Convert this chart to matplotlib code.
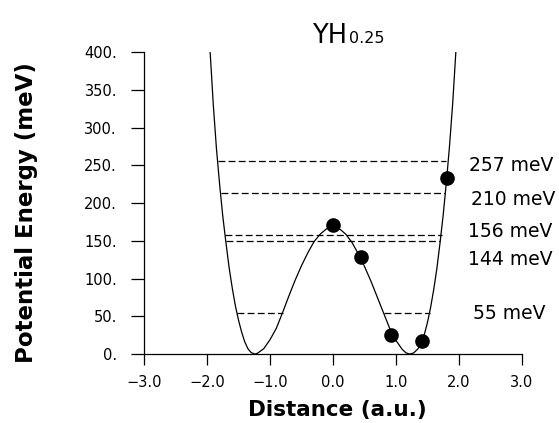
import matplotlib
matplotlib.use("Agg")
import matplotlib.pyplot as plt

# potential curve (Distance in a.u., energy in meV)
curve_x = [-1.95, -1.90, -1.85, -1.80, -1.75, -1.70, -1.65, -1.60, -1.55, -1.50,
           -1.45, -1.40, -1.35, -1.30, -1.24, -1.20, -1.10, -1.00, -0.90, -0.80,
           -0.70, -0.60, -0.50, -0.40, -0.30, -0.20, -0.10, 0.00,
           0.10, 0.20, 0.30, 0.40, 0.50, 0.60, 0.70, 0.80, 0.90, 1.00,
           1.10, 1.16, 1.22, 1.28, 1.35, 1.40, 1.45, 1.50, 1.55, 1.60,
           1.65, 1.70, 1.75, 1.80, 1.85, 1.90, 1.95]
curve_e = [400, 330, 272, 225, 183, 148, 115, 88, 64, 45,
           29, 16, 7, 2, 0, 1, 7, 19, 34, 55,
           77, 98, 117, 134, 149, 159, 166, 168,
           166, 159, 148, 133, 116, 97, 76, 55, 34, 18,
           6, 1.5, 0, 1.5, 7, 15, 26, 42, 62, 86,
           114, 148, 185, 228, 276, 332, 400]

# calculated points
pts_x = [0.0, 0.44, 0.92, 1.41, 1.81]
pts_e = [171, 128, 25, 17, 233]

# energy levels (dashed), with turning points
level_e = [55, 55, 150, 158, 213, 256]
level_x0 = [-1.53, 0.81, -1.70, -1.71, -1.78, -1.83]
level_x1 = [-0.80, 1.54, 1.70, 1.73, 1.77, 1.79]

level_labels = ["257 meV", "210 meV", "156 meV", "144 meV", "55 meV"]
label_x = [2.16, 2.19, 2.14, 2.14, 2.22]
label_y = [250, 205, 162, 125, 54]

xticks = [-3, -2, -1, 0, 1, 2, 3]
xticklabels = ["\u22123.0", "\u22122.0", "\u22121.0", "0.0", "1.0", "2.0", "3.0"]
yticks = [0, 50, 100, 150, 200, 250, 300, 350, 400]
yticklabels = ["0.", "50.", "100.", "150.", "200.", "250.", "300.", "350.", "400."]


fig = plt.figure(figsize=(5.59, 4.23), dpi=100)
ax = fig.add_axes([0.2576, 0.163, 0.6762, 0.714])

ax.plot(curve_x, curve_e, color="black", lw=0.9)

for e, x0, x1 in zip(level_e, level_x0, level_x1):
    ax.plot([x0, x1], [e, e], color="black", lw=0.9, dashes=(5.5, 2.6))

ax.plot(pts_x, pts_e, "o", color="black", markersize=9.5, clip_on=False)

for txt, x, y in zip(level_labels, label_x, label_y):
    ax.text(x, y, txt, fontsize=13.5, family="DejaVu Sans",
            ha="left", va="center", clip_on=False)

# title with subscript
ax.text(0.22, 412, "YH", fontsize=18.5, family="DejaVu Sans",
        ha="right", va="baseline", clip_on=False)
ax.text(0.25, 412, "0.25", fontsize=11.5, family="DejaVu Sans",
        ha="left", va="baseline", clip_on=False)

ax.set_xlim(-3, 3)
ax.set_ylim(0, 400)
ax.set_xticks(xticks)
ax.set_xticklabels(xticklabels, fontsize=10.5)
ax.set_yticks(yticks)
ax.set_yticklabels(yticklabels, fontsize=10.5)

ax.spines["top"].set_visible(False)
ax.spines["right"].set_visible(False)
ax.spines["left"].set_linewidth(0.9)
ax.spines["bottom"].set_linewidth(0.9)

ax.tick_params(axis="y", direction="out", length=9.4, width=0.9, pad=10)
ax.tick_params(axis="x", direction="out", length=8, width=0.9, pad=7)

ax.set_xlabel("Distance (a.u.)", fontsize=15.5, fontweight="bold")
ax.set_ylabel("Potential Energy (meV)", fontsize=16.5, fontweight="bold")
ax.xaxis.set_label_coords(0.511, -0.152)
ax.yaxis.set_label_coords(-0.28, 0.468)

fig.savefig("out.png", dpi=100)
